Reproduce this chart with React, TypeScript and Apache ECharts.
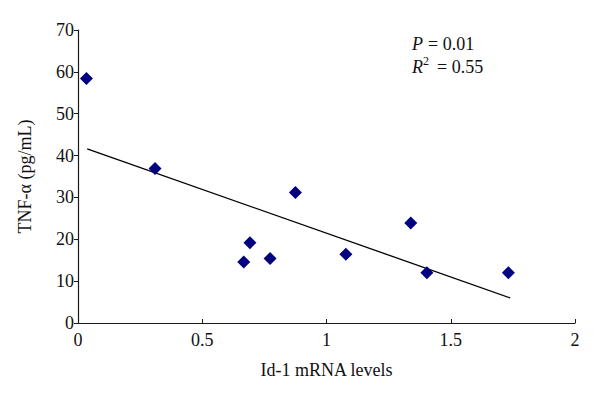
import React, { useEffect, useRef } from "react";
import * as echarts from "echarts";

const idLevels = [0.034, 0.31, 0.875, 0.692, 0.667, 0.773, 1.078, 1.339, 1.404, 1.732];
const tnfAlpha = [58.4, 36.9, 31.2, 19.2, 14.6, 15.4, 16.4, 23.9, 12.0, 12.0];
const fitX = [0.037, 1.739];
const fitY = [41.6, 6.0];
const xTicks = [0, 0.5, 1, 1.5, 2];
const yTicks = [0, 10, 20, 30, 40, 50, 60, 70];

const FONT = "Liberation Serif";

export default function App() {
  const ref = useRef<HTMLDivElement>(null);
  useEffect(() => {
    if (!ref.current) return;
    const chart = echarts.init(ref.current, undefined, { renderer: "svg" });
    const axisColor = "#1a1a1a";
    const textColor = "#111";
    const txt = (text: string, left: number, top: number, size: number, italic = false) => ({
      type: "text",
      left,
      top,
      style: { text, fontFamily: FONT, fontSize: size, fontStyle: italic ? "italic" : "normal", fill: textColor },
    });
    chart.setOption({
      animation: false,
      backgroundColor: "#ffffff",
      grid: { left: 78, right: 25, top: 30, bottom: 76 },
      xAxis: {
        type: "value",
        min: xTicks[0],
        max: xTicks[xTicks.length - 1],
        interval: 0.5,
        name: "Id-1 mRNA levels",
        nameLocation: "middle",
        nameGap: 38,
        nameTextStyle: { fontFamily: FONT, fontSize: 18, color: textColor },
        axisLine: { lineStyle: { color: axisColor, width: 1.2 } },
        axisTick: { inside: true, length: 4, lineStyle: { color: axisColor } },
        axisLabel: { fontFamily: FONT, fontSize: 18, color: textColor, margin: 8 },
        splitLine: { show: false },
      },
      yAxis: {
        type: "value",
        min: yTicks[0],
        max: yTicks[yTicks.length - 1],
        interval: 10,
        name: "TNF-\u03b1 (pg/mL)",
        nameLocation: "middle",
        nameGap: 44,
        nameTextStyle: { fontFamily: FONT, fontSize: 18, color: textColor },
        axisLine: { show: true, lineStyle: { color: axisColor, width: 1.2 } },
        axisTick: { show: true, inside: false, length: 4, lineStyle: { color: axisColor } },
        axisLabel: { fontFamily: FONT, fontSize: 18, color: textColor, margin: 4 },
        splitLine: { show: false },
      },
      series: [
        {
          type: "line",
          data: fitX.map((x, i) => [x, fitY[i]]),
          showSymbol: false,
          symbol: "none",
          lineStyle: { color: "#000", width: 1.3 },
          z: 1,
        },
        {
          type: "scatter",
          data: idLevels.map((x, i) => [x, tnfAlpha[i]]),
          symbol: "diamond",
          symbolSize: 13,
          itemStyle: { color: "#000080", opacity: 1 },
          z: 2,
        },
      ],
      graphic: [
        txt("P", 412, 35, 18, true),
        txt("= 0.01", 428, 35, 18),
        txt("R", 412, 58, 18, true),
        txt("2", 423, 55, 12),
        txt("= 0.55", 437, 58, 18),
      ],
    });
    return () => chart.dispose();
  }, []);
  return <div ref={ref} style={{ width: 600, height: 399, position: "absolute", left: 0, top: 0 }} />;
}
